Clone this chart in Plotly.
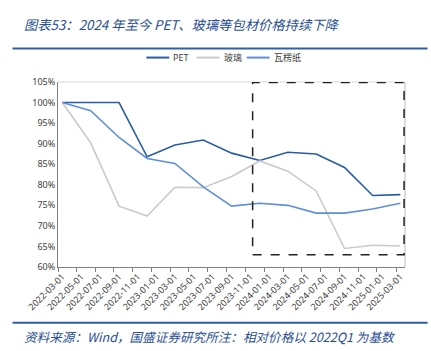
import plotly.graph_objects as go

dates = ["2022-03-01", "2022-06-01", "2022-09-01", "2022-12-01", "2023-03-01", "2023-06-01",
         "2023-09-01", "2023-12-01", "2024-03-01", "2024-06-01", "2024-09-01", "2024-12-01",
         "2025-03-01"]
pet = [100, 100, 100, 86.8, 89.7, 90.9, 87.7, 85.9, 87.9, 87.5, 84.2, 77.4, 77.6]
glass = [100, 90.2, 74.8, 72.4, 79.4, 79.3, 82.0, 85.8, 83.3, 78.5, 64.5, 65.3, 65.1]
paper = [100, 98.0, 91.5, 86.4, 85.2, 79.5, 74.8, 75.5, 75.0, 73.1, 73.1, 74.1, 75.5]
names = ["PET", "玻璃", "瓦楞纸"]

title = "图表53：2024 年至今 PET、玻璃等包材价格持续下降"
source = "资料来源：Wind，国盛证券研究所注：相对价格以 2022Q1 为基数"

CJK = "Noto Sans CJK SC"
fig = go.Figure()
colors = ["#2A5BA8", "#CACACA", "#5F8FD6"]
for ys, nm, c in zip([pet, glass, paper], names, colors):
    fig.add_trace(go.Scatter(x=dates, y=ys, name=nm, mode="lines",
                             line=dict(color=c, width=1.6), showlegend=False))

fig.update_layout(
    width=431, height=351,
    margin=dict(l=58, r=26, t=82, b=84, pad=0),
    plot_bgcolor="white", paper_bgcolor="white",
    font=dict(family="Noto Sans, " + CJK, size=9, color="#404040"),
    showlegend=False,
    xaxis=dict(type="date", range=["2022-02-15", "2025-03-16"],
               tick0="2022-03-01", dtick="M2", tickformat="%Y-%m-%d",
               tickangle=-45, ticks="", showgrid=False, zeroline=False,
               showline=True, linecolor="#808080", linewidth=1,
               tickfont=dict(size=9, color="#404040", family="Noto Sans"),
               minor=dict(tick0="2022-02-15", dtick="M2", ticks="outside", ticklen=4,
                          tickcolor="#808080", showgrid=False)),
    yaxis=dict(range=[60, 105], dtick=5, tick0=60, ticksuffix="%",
               showgrid=False, zeroline=False, showline=True, linecolor="#808080",
               linewidth=1, ticks="", tickfont=dict(size=9, color="#404040", family="Noto Sans")),
)

# custom legend (short swatches like the original)
leg_x0, leg_step, leg_len, leg_txt, leg_y = 0.2547, 0.1445, 0.066, 0.072, 1.132
for i, (nm, c) in enumerate(zip(names, colors)):
    xs = leg_x0 + i * leg_step
    fig.add_shape(type="line", xref="paper", yref="paper", x0=xs, x1=xs + leg_len,
                  y0=leg_y, y1=leg_y, line=dict(color=c, width=2))
    fig.add_annotation(text=nm, xref="paper", yref="paper", x=xs + leg_txt, y=leg_y,
                       xanchor="left", yanchor="middle", showarrow=False,
                       font=dict(family="Noto Sans, " + CJK, size=9, color="#404040"))

# plot-area border top/right (light gray)
fig.add_shape(type="line", xref="paper", yref="paper", x0=0, x1=1, y0=1, y1=1,
              line=dict(color="#D9D9D9", width=1))
fig.add_shape(type="line", xref="paper", yref="paper", x0=1, x1=1, y0=0, y1=1,
              line=dict(color="#D0D0D0", width=1.5))
# dashed highlight box
fig.add_shape(type="rect", xref="x", yref="y", x0="2023-11-08", x1="2025-03-13", y0=63.0, y1=104.9,
              line=dict(color="#222222", width=1.5, dash="dash"))
# header / footer rules
fig.add_shape(type="line", xref="paper", yref="paper", x0=-0.131, x1=1.065, y0=1.181, y1=1.181,
              line=dict(color="#2E5FA8", width=2))
fig.add_shape(type="line", xref="paper", yref="paper", x0=-0.131, x1=1.065, y0=-0.302, y1=-0.302,
              line=dict(color="#2E5FA8", width=2))

fig.add_annotation(text="<i>" + title + "</i>", xref="paper", yref="paper", x=-0.105, y=1.311,
                   xanchor="left", yanchor="middle", showarrow=False,
                   font=dict(family=CJK, size=13.3, color="#2A4F94"))
fig.add_annotation(text="<i>" + source + "</i>", xref="paper", yref="paper", x=-0.105, y=-0.376,
                   xanchor="left", yanchor="middle", showarrow=False,
                   font=dict(family=CJK, size=12.6, color="#2A4F94"))

fig.write_html("out.html")
